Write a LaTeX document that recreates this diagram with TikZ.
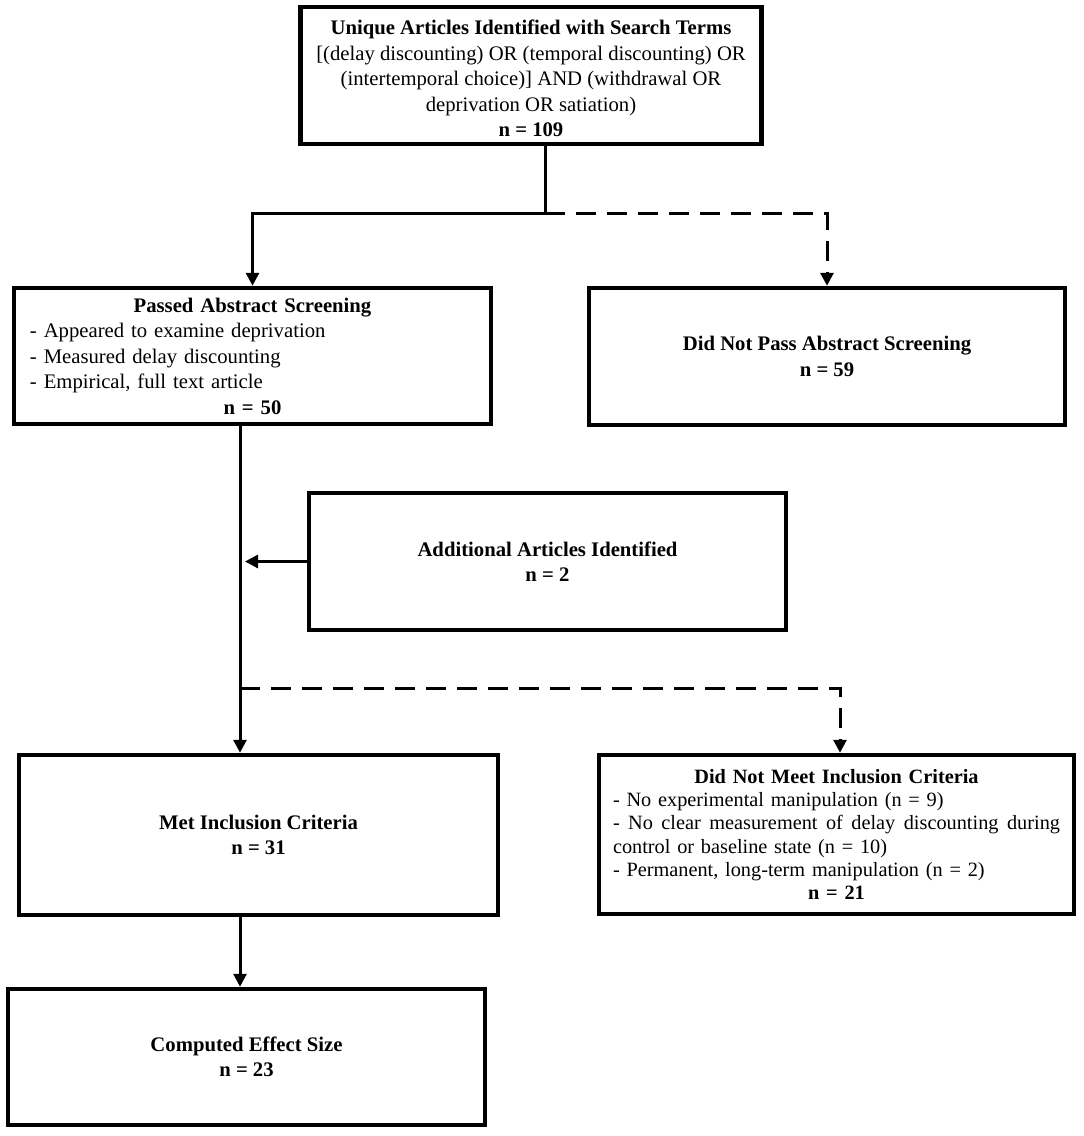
\documentclass[tikz,border=0pt]{standalone}
\usepackage{fontspec}
\setmainfont{Liberation Serif}
\usetikzlibrary{arrows.meta,calc}
\begin{document}
\begin{tikzpicture}[x=1pt,y=-1pt,
  box/.style={draw=black, line width=4.5pt, fill=white, inner xsep=16pt, inner ysep=4pt,
     font=\fontsize{20.7}{25.5}\selectfont},
  cbox/.style={box, align=center},
  conn/.style={line width=3pt, -{Triangle[length=13pt,width=13pt]}},
  dconn/.style={conn, dash pattern=on 20pt off 11pt}
]
\useasboundingbox (0,0) rectangle (1084,1136);

\node[cbox, minimum width=450pt, minimum height=137pt] (top) at (531,75.5)
 {\rule{0pt}{21pt}\textbf{Unique Articles Identified with Search Terms}\\
  {[}(delay discounting) OR (temporal discounting) OR\\
  (intertemporal choice)] AND (withdrawal OR\\
  deprivation OR satiation)\\
  \textbf{n = 109}};

\node[box, minimum width=477pt, minimum height=136pt, text width=445pt] (passed) at (252.5,356)
 {\setlength{\parindent}{0pt}%
  {\centering\textbf{Passed Abstract Screening}\par}
  - Appeared to examine deprivation\par
  - Measured delay discounting\par
  - Empirical, full text article\par
  {\centering\textbf{n = 50}\par}};

\node[cbox, minimum width=476pt, minimum height=137pt] (dnp) at (827,356.5)
 {\textbf{Did Not Pass Abstract Screening}\\ \textbf{n = 59}};

\node[cbox, minimum width=477pt, minimum height=137pt] (add) at (547.5,561.5)
 {\textbf{Additional Articles Identified}\\ \textbf{n = 2}};

\node[cbox, minimum width=479pt, minimum height=160pt] (met) at (258.5,835)
 {\textbf{Met Inclusion Criteria}\\ \textbf{n = 31}};

\node[box, minimum width=475pt, minimum height=159pt, inner xsep=14pt, text width=447pt,
      font=\fontsize{20.3}{23.3}\selectfont] (dnm) at (836.5,834.5)
 {\setlength{\parindent}{0pt}%
  {\centering\textbf{Did Not Meet Inclusion Criteria}\par}
  - No experimental manipulation (n = 9)\par
  \hbox to 447pt{-\hfill No\hfill clear\hfill measurement\hfill of\hfill delay\hfill discounting\hfill during}\par
  control or baseline state (n = 10)\par
  - Permanent, long-term manipulation (n = 2)\par
  {\centering\textbf{n = 21}\par}};

\node[cbox, minimum width=477pt, minimum height=136pt] (comp) at (246.5,1057)
 {\textbf{Computed Effect Size}\\ \textbf{n = 23}};

\coordinate (j1) at (545,213);
\coordinate (j2) at (240,688);

\draw[line width=3pt] (top.south -| j1) -- (j1);
\draw[conn] (j1) -| (passed.north);
\draw[dconn] (j1) -| (dnp.north);

\draw[line width=3pt] (passed.south -| j2) -- (j2);
\draw[conn] (j2) -- (met.north -| j2);
\draw[conn, shorten >=5pt] (add.west) -- (add.west -| j2);
\draw[dconn] (j2) -| ([xshift=3.5pt]dnm.north);
\draw[conn] (met.south -| j2) -- (comp.north -| j2);
\end{tikzpicture}
\end{document}
